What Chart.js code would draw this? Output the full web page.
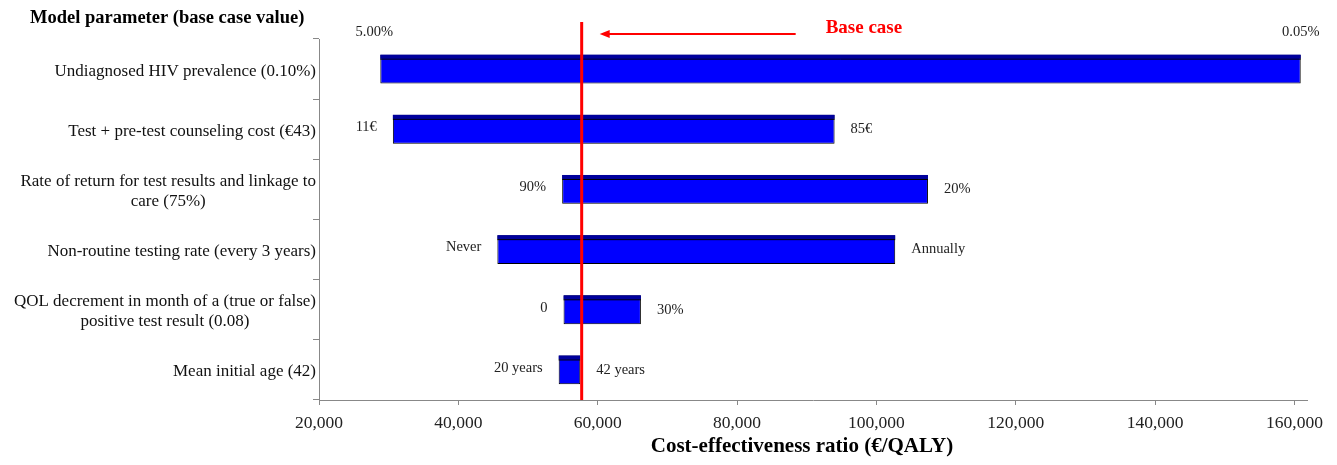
<!DOCTYPE html>
<html>
<head>
<meta charset="utf-8">
<title>Tornado diagram</title>
<script src="https://cdn.jsdelivr.net/npm/chart.js@4.4.1/dist/chart.umd.min.js"></script>
<style>
  body { margin: 0; background: #fff; }
</style>
</head>
<body>
<canvas id="tornado" width="1337" height="465"></canvas>
<script>
// Parametros do diagrama de tornado
const paramLabels = [
  ['Undiagnosed HIV prevalence (0.10%)'],
  ['Test + pre-test counseling cost (€43)'],
  ['Rate of return for test results and linkage to', 'care (75%)'],
  ['Non-routine testing rate (every 3 years)'],
  ['QOL decrement in month of a (true or false)', 'positive test result (0.08)'],
  ['Mean initial age (42)']
];
const lowIcer = [28800, 30600, 54900, 45600, 55100, 54400];
const highIcer = [160900, 94000, 107400, 102700, 66200, 57500];
const lowLabels = ['5.00%', '11€', '90%', 'Never', '0', '20 years'];
const highLabels = ['0.05%', '85€', '20%', 'Annually', '30%', '42 years'];
const baseCase = 57700;
const xTicks = [20000, 40000, 60000, 80000, 100000, 120000, 140000, 160000];

const serif = '"Liberation Serif", "Times New Roman", serif';

// faixa escura no topo de cada barra (efeito 3D do original)
const barStrip = {
  id: 'barStrip',
  afterDatasetsDraw(chart) {
    const ctx = chart.ctx;
    chart.getDatasetMeta(0).data.forEach(bar => {
      const p = bar.getProps(['x', 'base', 'y', 'height'], true);
      const left = Math.min(p.x, p.base), w = Math.abs(p.x - p.base);
      const top = p.y - p.height / 2;
      ctx.save();
      ctx.fillStyle = '#00009c';
      ctx.fillRect(left, top, w, 4);
      ctx.strokeStyle = '#000';
      ctx.lineWidth = 1;
      ctx.beginPath();
      ctx.moveTo(left, top + 4.5);
      ctx.lineTo(left + w, top + 4.5);
      ctx.stroke();
      ctx.restore();
    });
  }
};

// rotulos das extremidades das barras
const endLabels = {
  id: 'endLabels',
  afterDatasetsDraw(chart) {
    const ctx = chart.ctx;
    const area = chart.chartArea;
    const gap = 16;
    ctx.save();
    ctx.font = '14.5px ' + serif;
    ctx.fillStyle = '#222';
    ctx.textBaseline = 'middle';
    chart.getDatasetMeta(0).data.forEach((bar, i) => {
      const p = bar.getProps(['x', 'base', 'y', 'height'], true);
      const left = Math.min(p.x, p.base), right = Math.max(p.x, p.base);
      const rw = ctx.measureText(highLabels[i]).width;
      if (right + gap + rw > area.right) {
        const ty = p.y - p.height / 2 - 22;
        ctx.textAlign = 'center';
        ctx.fillText(lowLabels[i], left - 6, ty);
        ctx.fillText(highLabels[i], right, ty);
      } else {
        ctx.textAlign = 'right';
        ctx.fillText(lowLabels[i], left - gap, p.y - 2);
        ctx.textAlign = 'left';
        ctx.fillText(highLabels[i], right + gap, p.y);
      }
    });
    ctx.restore();
  }
};

// nomes dos parametros, titulo do eixo y e do eixo x
const paramNames = {
  id: 'paramNames',
  afterDraw(chart) {
    const ctx = chart.ctx;
    const yScale = chart.scales.y;
    const area = chart.chartArea;
    const rightEdge = yScale.right - 3;
    const lh = 20;
    ctx.save();
    ctx.font = '17px ' + serif;
    ctx.fillStyle = '#111';
    ctx.textBaseline = 'middle';
    ctx.textAlign = 'center';
    paramLabels.forEach((lines, i) => {
      const yc = yScale.getPixelForValue(i) + 2;
      const maxW = Math.max(...lines.map(l => ctx.measureText(l).width));
      const y0 = yc - (lines.length - 1) * lh / 2;
      lines.forEach((l, j) => ctx.fillText(l, rightEdge - maxW / 2, y0 + j * lh));
    });
    ctx.font = 'bold 18.5px ' + serif;
    ctx.fillStyle = '#000';
    ctx.textAlign = 'left';
    ctx.fillText('Model parameter (base case value)', 30, 18);
    ctx.font = 'bold 21px ' + serif;
    ctx.textAlign = 'center';
    ctx.fillText('Cost-effectiveness ratio (€/QALY)', (area.left + area.right) / 2 - 11, 447);
    ctx.restore();
  }
};

// linha vertical do caso base, seta e texto
const baseLine = {
  id: 'baseLine',
  afterDraw(chart) {
    const ctx = chart.ctx;
    const bx = chart.scales.x.getPixelForValue(baseCase);
    const bottom = chart.chartArea.bottom;
    ctx.save();
    ctx.strokeStyle = '#ff0000';
    ctx.fillStyle = '#ff0000';
    ctx.lineWidth = 3;
    ctx.beginPath();
    ctx.moveTo(bx, 22);
    ctx.lineTo(bx, bottom);
    ctx.stroke();
    // seta
    const ay = 34, tip = bx + 18, tail = bx + 214;
    ctx.lineWidth = 2;
    ctx.beginPath();
    ctx.moveTo(tail, ay);
    ctx.lineTo(tip + 8, ay);
    ctx.stroke();
    ctx.beginPath();
    ctx.moveTo(tip, ay);
    ctx.lineTo(tip + 10, ay - 4);
    ctx.lineTo(tip + 10, ay + 4);
    ctx.closePath();
    ctx.fill();
    ctx.font = 'bold 19px ' + serif;
    ctx.textAlign = 'left';
    ctx.textBaseline = 'middle';
    ctx.fillText('Base case', bx + 244, 28);
    ctx.restore();
  }
};

const ctx = document.getElementById('tornado').getContext('2d');
const tornadoChart = new Chart(ctx, {
  type: 'bar',
  data: {
    labels: paramLabels.map(l => l.join(' ')),
    datasets: [{
      data: lowIcer.map((v, i) => [v, highIcer[i]]),
      backgroundColor: '#0000ff',
      borderColor: '#000',
      borderWidth: 1,
      borderSkipped: false,
      categoryPercentage: 1,
      barPercentage: 0.48
    }]
  },
  options: {
    indexAxis: 'y',
    responsive: false,
    animation: false,
    layout: { padding: { top: 39, right: 30, left: 0, bottom: 0 } },
    plugins: {
      legend: { display: false },
      tooltip: { enabled: false }
    },
    scales: {
      x: {
        type: 'linear',
        min: 20000,
        max: 161800,
        afterFit: scale => { scale.height = 65; },
        afterBuildTicks: axis => {
          axis.ticks = xTicks.map(v => ({ value: v }));
        },
        ticks: {
          color: '#222',
          padding: 8,
          maxRotation: 0,
          font: { family: serif, size: 17.5 },
          callback: v => v.toLocaleString('en-US')
        },
        grid: {
          drawOnChartArea: false,
          drawTicks: true,
          tickLength: 5,
          color: '#888'
        },
        border: { color: '#888', width: 1 }
      },
      y: {
        afterFit: scale => { scale.width = 319; },
        ticks: { display: false },
        grid: {
          offset: true,
          drawOnChartArea: false,
          drawTicks: true,
          tickLength: 6,
          color: '#888'
        },
        border: { color: '#888', width: 1 }
      }
    }
  },
  plugins: [barStrip, endLabels, paramNames, baseLine]
});
</script>
</body>
</html>
